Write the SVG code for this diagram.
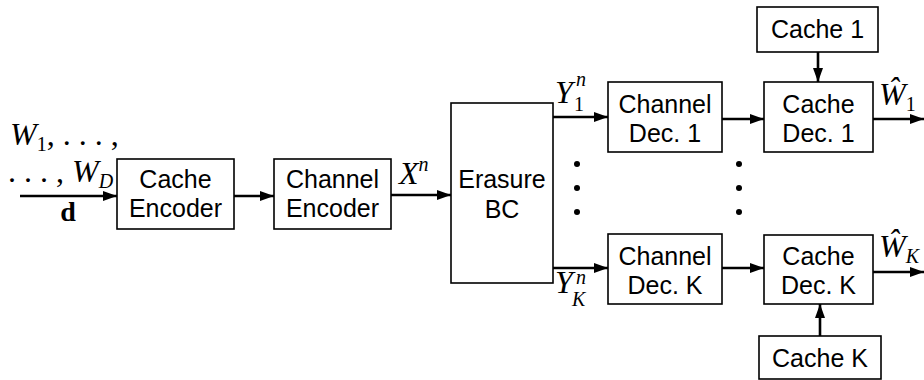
<svg xmlns="http://www.w3.org/2000/svg" width="924" height="380" viewBox="0 0 924 380">
<defs>
<marker id="ah" viewBox="0 0 14 10" refX="14" refY="5" markerWidth="14" markerHeight="10" markerUnits="userSpaceOnUse" orient="auto">
<path d="M0,0 L14,5 L0,10 Z" fill="#000"/>
</marker>
<style>
.box{fill:#fff;stroke:#000;stroke-width:1.6}
.t{font-family:"Liberation Sans",Arial,sans-serif;font-size:25px;text-anchor:middle;fill:#000}
.m{font-family:"Liberation Serif","Times New Roman",serif;font-size:32px;font-style:italic;fill:#000}
.s{font-family:"Liberation Serif","Times New Roman",serif;font-style:normal;font-size:20px;fill:#000}
.si{font-family:"Liberation Serif","Times New Roman",serif;font-style:italic;font-size:20px;fill:#000}
.c{stroke:#000;stroke-width:2.6;fill:none;marker-end:url(#ah)}
.dot{fill:#000}
</style>
</defs>
<rect width="924" height="380" fill="#fff"/>

<g id="input-label">
<text class="m" x="10" y="145">W<tspan class="s" dy="6">1</tspan><tspan dy="-6" font-style="normal">, . . . ,</tspan></text>
<text class="m" x="8" y="182"><tspan font-style="normal">. . . , </tspan>W<tspan class="si" dy="6">D</tspan></text>
<text x="68" y="221" font-family="'Liberation Serif',serif" font-weight="bold" font-size="28" text-anchor="middle">d</text>
</g>

<g id="cache-encoder">
<rect class="box" x="117" y="159" width="117" height="70"/>
<text class="t" x="175.5" y="188">Cache</text>
<text class="t" x="175.5" y="217">Encoder</text>
</g>

<g id="channel-encoder">
<rect class="box" x="274" y="159" width="117" height="70"/>
<text class="t" x="332.5" y="188">Channel</text>
<text class="t" x="332.5" y="217">Encoder</text>
</g>

<g id="erasure-bc">
<rect class="box" x="451" y="103" width="102" height="180"/>
<text class="t" x="502" y="188">Erasure</text>
<text class="t" x="502" y="218">BC</text>
</g>

<g id="channel-dec-1">
<rect class="box" x="608" y="82" width="114" height="70"/>
<text class="t" x="665" y="113">Channel</text>
<text class="t" x="665" y="142">Dec. 1</text>
</g>

<g id="cache-dec-1">
<rect class="box" x="764" y="82" width="109" height="70"/>
<text class="t" x="818.5" y="113">Cache</text>
<text class="t" x="818.5" y="142">Dec. 1</text>
</g>

<g id="cache-1">
<rect class="box" x="757" y="7" width="121" height="45"/>
<text class="t" x="817.5" y="38">Cache 1</text>
</g>

<g id="channel-dec-k">
<rect class="box" x="608" y="234" width="114" height="70"/>
<text class="t" x="665" y="265">Channel</text>
<text class="t" x="665" y="294">Dec. K</text>
</g>

<g id="cache-dec-k">
<rect class="box" x="764" y="235" width="109" height="69"/>
<text class="t" x="818.5" y="265">Cache</text>
<text class="t" x="818.5" y="294">Dec. K</text>
</g>

<g id="cache-k">
<rect class="box" x="759" y="336" width="122" height="43"/>
<text class="t" x="820" y="367">Cache K</text>
</g>

<g id="connectors">
<line class="c" x1="20" y1="196" x2="117" y2="196"/>
<line class="c" x1="234" y1="196" x2="274" y2="196"/>
<line class="c" x1="391" y1="195" x2="451" y2="195"/>
<line class="c" x1="553" y1="117" x2="608" y2="117"/>
<line class="c" x1="722" y1="119" x2="764" y2="119"/>
<line class="c" x1="873" y1="119" x2="924" y2="119"/>
<line class="c" x1="818" y1="52" x2="818" y2="82"/>
<line class="c" x1="553" y1="268" x2="608" y2="268"/>
<line class="c" x1="722" y1="268" x2="764" y2="268"/>
<line class="c" x1="873" y1="272" x2="924" y2="272"/>
<line class="c" x1="820" y1="336" x2="820" y2="304"/>
</g>

<g id="labels">
<text class="m" x="399" y="184">X<tspan class="si" dy="-13">n</tspan></text>
<text class="m" x="555" y="103">Y</text>
<text class="si" x="576" y="86">n</text>
<text class="s" x="574" y="111">1</text>
<text class="m" x="555" y="293">Y</text>
<text class="si" x="576" y="284">n</text>
<text class="si" x="572" y="306">K</text>
<text class="m" x="879" y="105">Ŵ<tspan class="s" dy="6">1</tspan></text>
<text class="m" x="879" y="257">Ŵ<tspan class="si" dy="6">K</tspan></text>
</g>

<g id="dots">
<circle class="dot" cx="577" cy="164" r="3"/>
<circle class="dot" cx="577" cy="188" r="3"/>
<circle class="dot" cx="577" cy="212" r="3"/>
<circle class="dot" cx="739" cy="164" r="3"/>
<circle class="dot" cx="739" cy="188" r="3"/>
<circle class="dot" cx="739" cy="212" r="3"/>
</g>
</svg>
